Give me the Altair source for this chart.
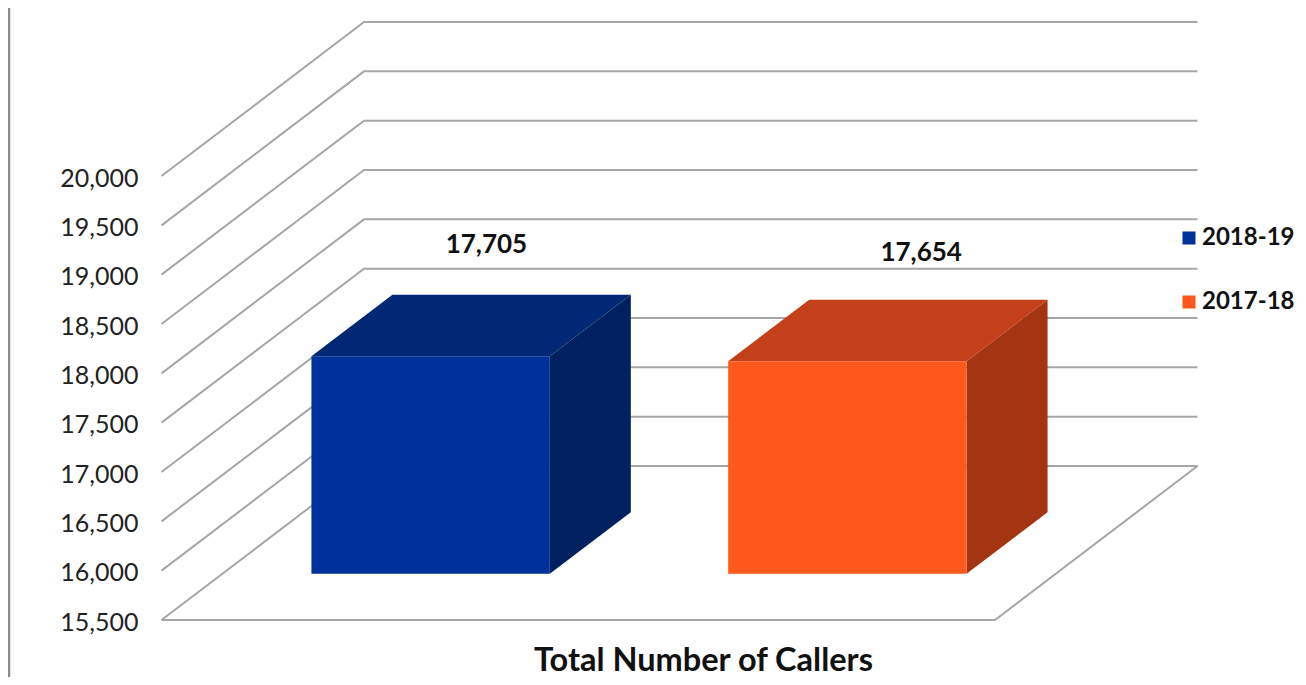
import altair as alt
import pandas as pd

# ---- chart values ----
seasons = ["2018-19", "2017-18"]
callers = [17705, 17654]
axis_ticks = [15500, 16000, 16500, 17000, 17500, 18000, 18500, 19000, 19500, 20000]
category_title = "Total Number of Callers"
front_colors = ["#00309A", "#FF581C"]
top_colors = ["#002874", "#C4401A"]
side_colors = ["#00205F", "#A33512"]

# ---- 3-D projection settings (screen pixels) ----
W, H = 1290, 669
LEFT, RIGHT = 8, 8 + W
TOP, BOTTOM = 8, 8 + H
FLOOR_X, FLOOR_W = 161.5, 833.5
DEPTH_X, DEPTH_Y = 202.5, 154.0
PY_MIN, PY_MAX = 620.0, 176.0
VAL_PER_PX = (axis_ticks[-1] - axis_ticks[0]) / (PY_MIN - PY_MAX)
BASE = axis_ticks[0]
y_domain = [BASE - (BOTTOM - PY_MIN) * VAL_PER_PX, BASE + (PY_MIN - TOP) * VAL_PER_PX]
BAR_D0, BAR_D1 = 0.30, 0.70
BAR_HALF = 0.143


def px(u, d):
    return FLOOR_X + FLOOR_W * u + DEPTH_X * d


def py(v, d):
    return v + DEPTH_Y * d * VAL_PER_PX


# ---- wall and floor lines ----
line_rows = []
for t in axis_ticks:
    for i, (u, d) in enumerate([(0, 0), (0, 1), (1, 1)]):
        line_rows.append({"id": f"g{t}", "o": i, "x": px(u, d), "y": py(t, d)})
for i, (u, d) in enumerate([(0, 0), (1, 0), (1, 1)]):
    line_rows.append({"id": "floor", "o": i, "x": px(u, d), "y": py(BASE, d)})
lines_df = pd.DataFrame(line_rows)

# ---- bar faces ----
face_rows, front_rows, label_rows = [], [], []
for i, (s, v) in enumerate(zip(seasons, callers)):
    c = (i + 0.5) / len(seasons)
    u0, u1 = c - BAR_HALF, c + BAR_HALF
    front_rows.append({
        "season": s, "x": px(u0, BAR_D0), "x2": px(u1, BAR_D0),
        "y": py(v, BAR_D0), "y2": py(BASE, BAR_D0),
    })
    # right side
    for d in (BAR_D0, BAR_D1):
        face_rows.append({"id": f"s{i}", "fill": side_colors[i], "x": px(u1, d),
                          "y": py(v, d), "y2": py(BASE, d)})
    # top
    face_rows += [
        {"id": f"t{i}", "fill": top_colors[i], "x": px(u0, BAR_D0), "y": py(v, BAR_D0), "y2": py(v, BAR_D0)},
        {"id": f"t{i}", "fill": top_colors[i], "x": px(u0, BAR_D1), "y": py(v, BAR_D1), "y2": py(v, BAR_D0)},
        {"id": f"t{i}", "fill": top_colors[i], "x": px(u1, BAR_D0), "y": py(v, BAR_D1), "y2": py(v, BAR_D0)},
        {"id": f"t{i}", "fill": top_colors[i], "x": px(u1, BAR_D1), "y": py(v, BAR_D1), "y2": py(v, BAR_D1)},
    ]
    label_rows.append({"label": f"{v:,}", "x": px(u0, BAR_D0), "y": py(v, BAR_D1)})
faces_df = pd.DataFrame(face_rows)
front_df = pd.DataFrame(front_rows)
labels_df = pd.DataFrame(label_rows)
labels_df["x"] = labels_df["x"] + [175, 193]
labels_df["y"] = labels_df["y"] + pd.Series([50, 47]) * VAL_PER_PX

FONT = "Lato"
x_scale = alt.Scale(domain=[LEFT, RIGHT], range=[0, W], nice=False, zero=False)
y_scale = alt.Scale(domain=y_domain, nice=False, zero=False)

x_axis = alt.Axis(
    title=category_title, labels=False, ticks=False, domain=False, grid=False,
    titleFont=FONT, titleFontSize=32.5, titleFontWeight="bold", titleColor="#111111",
    titleX=695, titleY=-17, titleAlign="center", titleBaseline="middle",
)
y_axis = alt.Axis(
    title=None, values=axis_ticks, ticks=False, domain=False, grid=False,
    labelExpr="format(datum.value, ',')",
    labelFont=FONT, labelFontSize=25, labelColor="#222222", labelPadding=0,
    labelOverlap=False, labelBound=False, labelFlush=False, offset=-130, labelOffset=2,
)

lines = alt.Chart(lines_df).mark_line(color="#A6A6A6", strokeWidth=2, clip=False).encode(
    x=alt.X("x:Q", scale=x_scale, axis=x_axis),
    y=alt.Y("y:Q", scale=y_scale, axis=y_axis),
    detail="id:N", order="o:Q",
)
faces = alt.Chart(faces_df).mark_area(opacity=1, interpolate="linear").encode(
    x=alt.X("x:Q", scale=x_scale, axis=x_axis),
    y=alt.Y("y:Q", scale=y_scale, stack=None, axis=y_axis),
    y2="y2:Q",
    color=alt.Color("fill:N", scale=None, legend=None),
    detail="id:N",
)
fronts = alt.Chart(front_df).mark_rect(opacity=1).encode(
    x=alt.X("x:Q", scale=x_scale, axis=x_axis),
    x2="x2:Q",
    y=alt.Y("y:Q", scale=y_scale, axis=y_axis),
    y2="y2:Q",
    color=alt.Color("season:N", scale=alt.Scale(domain=seasons, range=front_colors), legend=alt.Legend(
        title=None, orient="none", legendX=1169, legendY=218, padding=0,
        symbolType="square", symbolSize=169, symbolStrokeWidth=0, symbolOpacity=1,
        labelFont=FONT, labelFontSize=24, labelFontWeight="bold", labelColor="#111111",
        labelOffset=1, rowPadding=40, labelLimit=200,
    )),
)
texts = alt.Chart(labels_df).mark_text(
    font=FONT, fontSize=26, fontWeight="bold", color="#111111", align="center", baseline="middle",
).encode(
    x=alt.X("x:Q", scale=x_scale, axis=x_axis),
    y=alt.Y("y:Q", scale=y_scale, axis=y_axis),
    text="label:N",
)
frame_line = alt.Chart(pd.DataFrame({"id": [0]})).mark_rule(color="#8C8C8C", strokeWidth=2.5).encode(
    x=alt.value(1), y=alt.value(0), y2=alt.value(H),
)

chart = (
    alt.layer(frame_line, lines, faces, fronts, texts)
    .resolve_scale(color="independent")
    .properties(width=W, height=H, padding=0, autosize=alt.AutoSizeParams(type="none"))
    .configure_view(stroke=None)
)
chart.save("out.html", embed_options={"renderer": "svg", "actions": False})
